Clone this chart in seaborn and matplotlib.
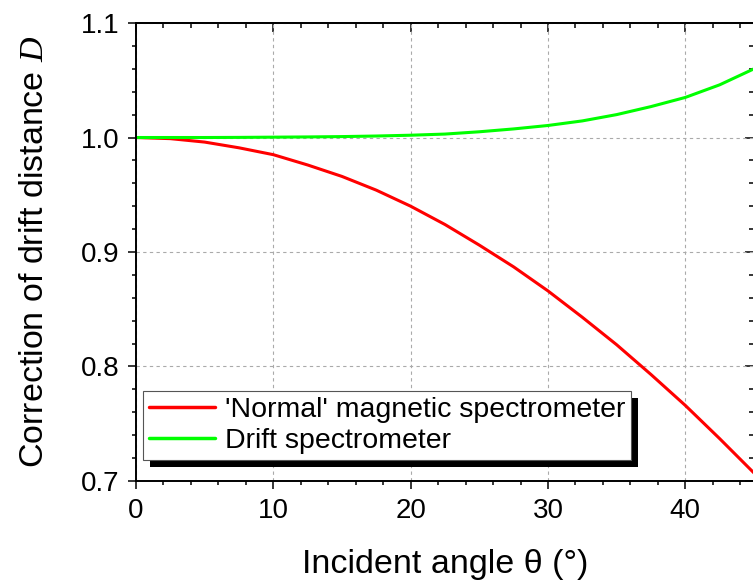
import matplotlib
matplotlib.use("Agg")
import matplotlib.pyplot as plt
from matplotlib.ticker import MultipleLocator
from matplotlib.patches import Rectangle
import seaborn as sns
import pandas as pd

# values
angle = [0, 2.5, 5, 7.5, 10, 12.5, 15, 17.5, 20, 22.5, 25, 27.5,
         30, 32.5, 35, 37.5, 40, 42.5, 45]
normal_mag = [1.000, 0.999, 0.996, 0.991, 0.985, 0.976, 0.966, 0.954, 0.940,
              0.924, 0.906, 0.887, 0.866, 0.843, 0.819, 0.793, 0.766, 0.737, 0.707]
drift_spec = [1.000, 1.000, 1.000, 1.0001, 1.0003, 1.0005, 1.0008, 1.0013, 1.002,
              1.003, 1.005, 1.0075, 1.0105, 1.0145, 1.020, 1.027, 1.035, 1.046, 1.060]
labels = ["'Normal' magnetic spectrometer", "Drift spectrometer"]

df = pd.concat([
    pd.DataFrame({"angle": angle, "D": normal_mag, "series": labels[0]}),
    pd.DataFrame({"angle": angle, "D": drift_spec, "series": labels[1]}),
])

sns.set_style("ticks")
plt.rcParams["font.family"] = ["Liberation Sans", "DejaVu Sans"]
plt.rcParams["mathtext.fontset"] = "custom"
plt.rcParams["mathtext.it"] = "Liberation Serif:italic"
for key in ["text.color", "axes.labelcolor", "xtick.color", "ytick.color"]:
    plt.rcParams[key] = "black"

fig = plt.figure(figsize=(7.53, 5.84), dpi=100)
ax = fig.add_axes([0.1806, 0.1764, 0.8207, 0.7842])

sns.lineplot(data=df, x="angle", y="D", hue="series",
             palette={labels[0]: "#ff0000", labels[1]: "#00ff00"},
             linewidth=2.2, ax=ax, legend=True)

ax.set_xlim(0, 45)
ax.set_ylim(0.7, 1.1)
ax.xaxis.set_major_locator(MultipleLocator(10))
ax.xaxis.set_minor_locator(MultipleLocator(2))
ax.yaxis.set_major_locator(MultipleLocator(0.1))
ax.yaxis.set_minor_locator(MultipleLocator(0.02))
ax.yaxis.set_major_formatter(lambda v, p: f"{v:.1f}")

ax.grid(True, which="major", linestyle=(0, (3, 3)), color="#aaaaaa", linewidth=0.8)
for s in ax.spines.values():
    s.set_linewidth(1.4)
    s.set_color("black")

ax.tick_params(which="both", direction="out", width=1.1, labelsize=20, pad=6)
ax.tick_params(which="major", length=6)
ax.tick_params(which="minor", length=3)

# mirrored ticks pointing inwards on top and right
top = ax.secondary_xaxis("top")
right = ax.secondary_yaxis("right")
top.xaxis.set_major_locator(MultipleLocator(10))
top.xaxis.set_minor_locator(MultipleLocator(2))
right.yaxis.set_major_locator(MultipleLocator(0.1))
right.yaxis.set_minor_locator(MultipleLocator(0.02))
for sec in (top, right):
    sec.tick_params(which="both", direction="in", width=1.1, labelleft=False,
                    labelright=False, labeltop=False)
    sec.tick_params(which="major", length=6.5)
    sec.tick_params(which="minor", length=3.5)
    for s in sec.spines.values():
        s.set_linewidth(1.4)

ax.set_xlabel("Incident angle θ (°)", fontsize=24.5, labelpad=18)
ax.set_ylabel("Correction of drift distance $D$", fontsize=24.5, labelpad=22)

leg = ax.legend(loc="lower left", bbox_to_anchor=(7 / 618, 21 / 458),
                borderaxespad=0, fontsize=20.5, frameon=True, fancybox=False,
                framealpha=1, edgecolor="#555555", handlelength=2.3,
                handletextpad=0.35, labelspacing=0.15, borderpad=0.22)
leg.get_frame().set_linewidth(0.8)
for line in leg.get_lines():
    line.set_linewidth(2.5)

# black drop shadow under the legend box
fig.canvas.draw()
bb = leg.get_frame().get_window_extent()
shadow = Rectangle((bb.x0 + 7, bb.y0 - 7), bb.width, bb.height, transform=None,
                   facecolor="black", edgecolor="none", zorder=4.5)
ax.add_artist(shadow)
shadow.set_clip_on(False)

fig.savefig("out.png", dpi=100)
